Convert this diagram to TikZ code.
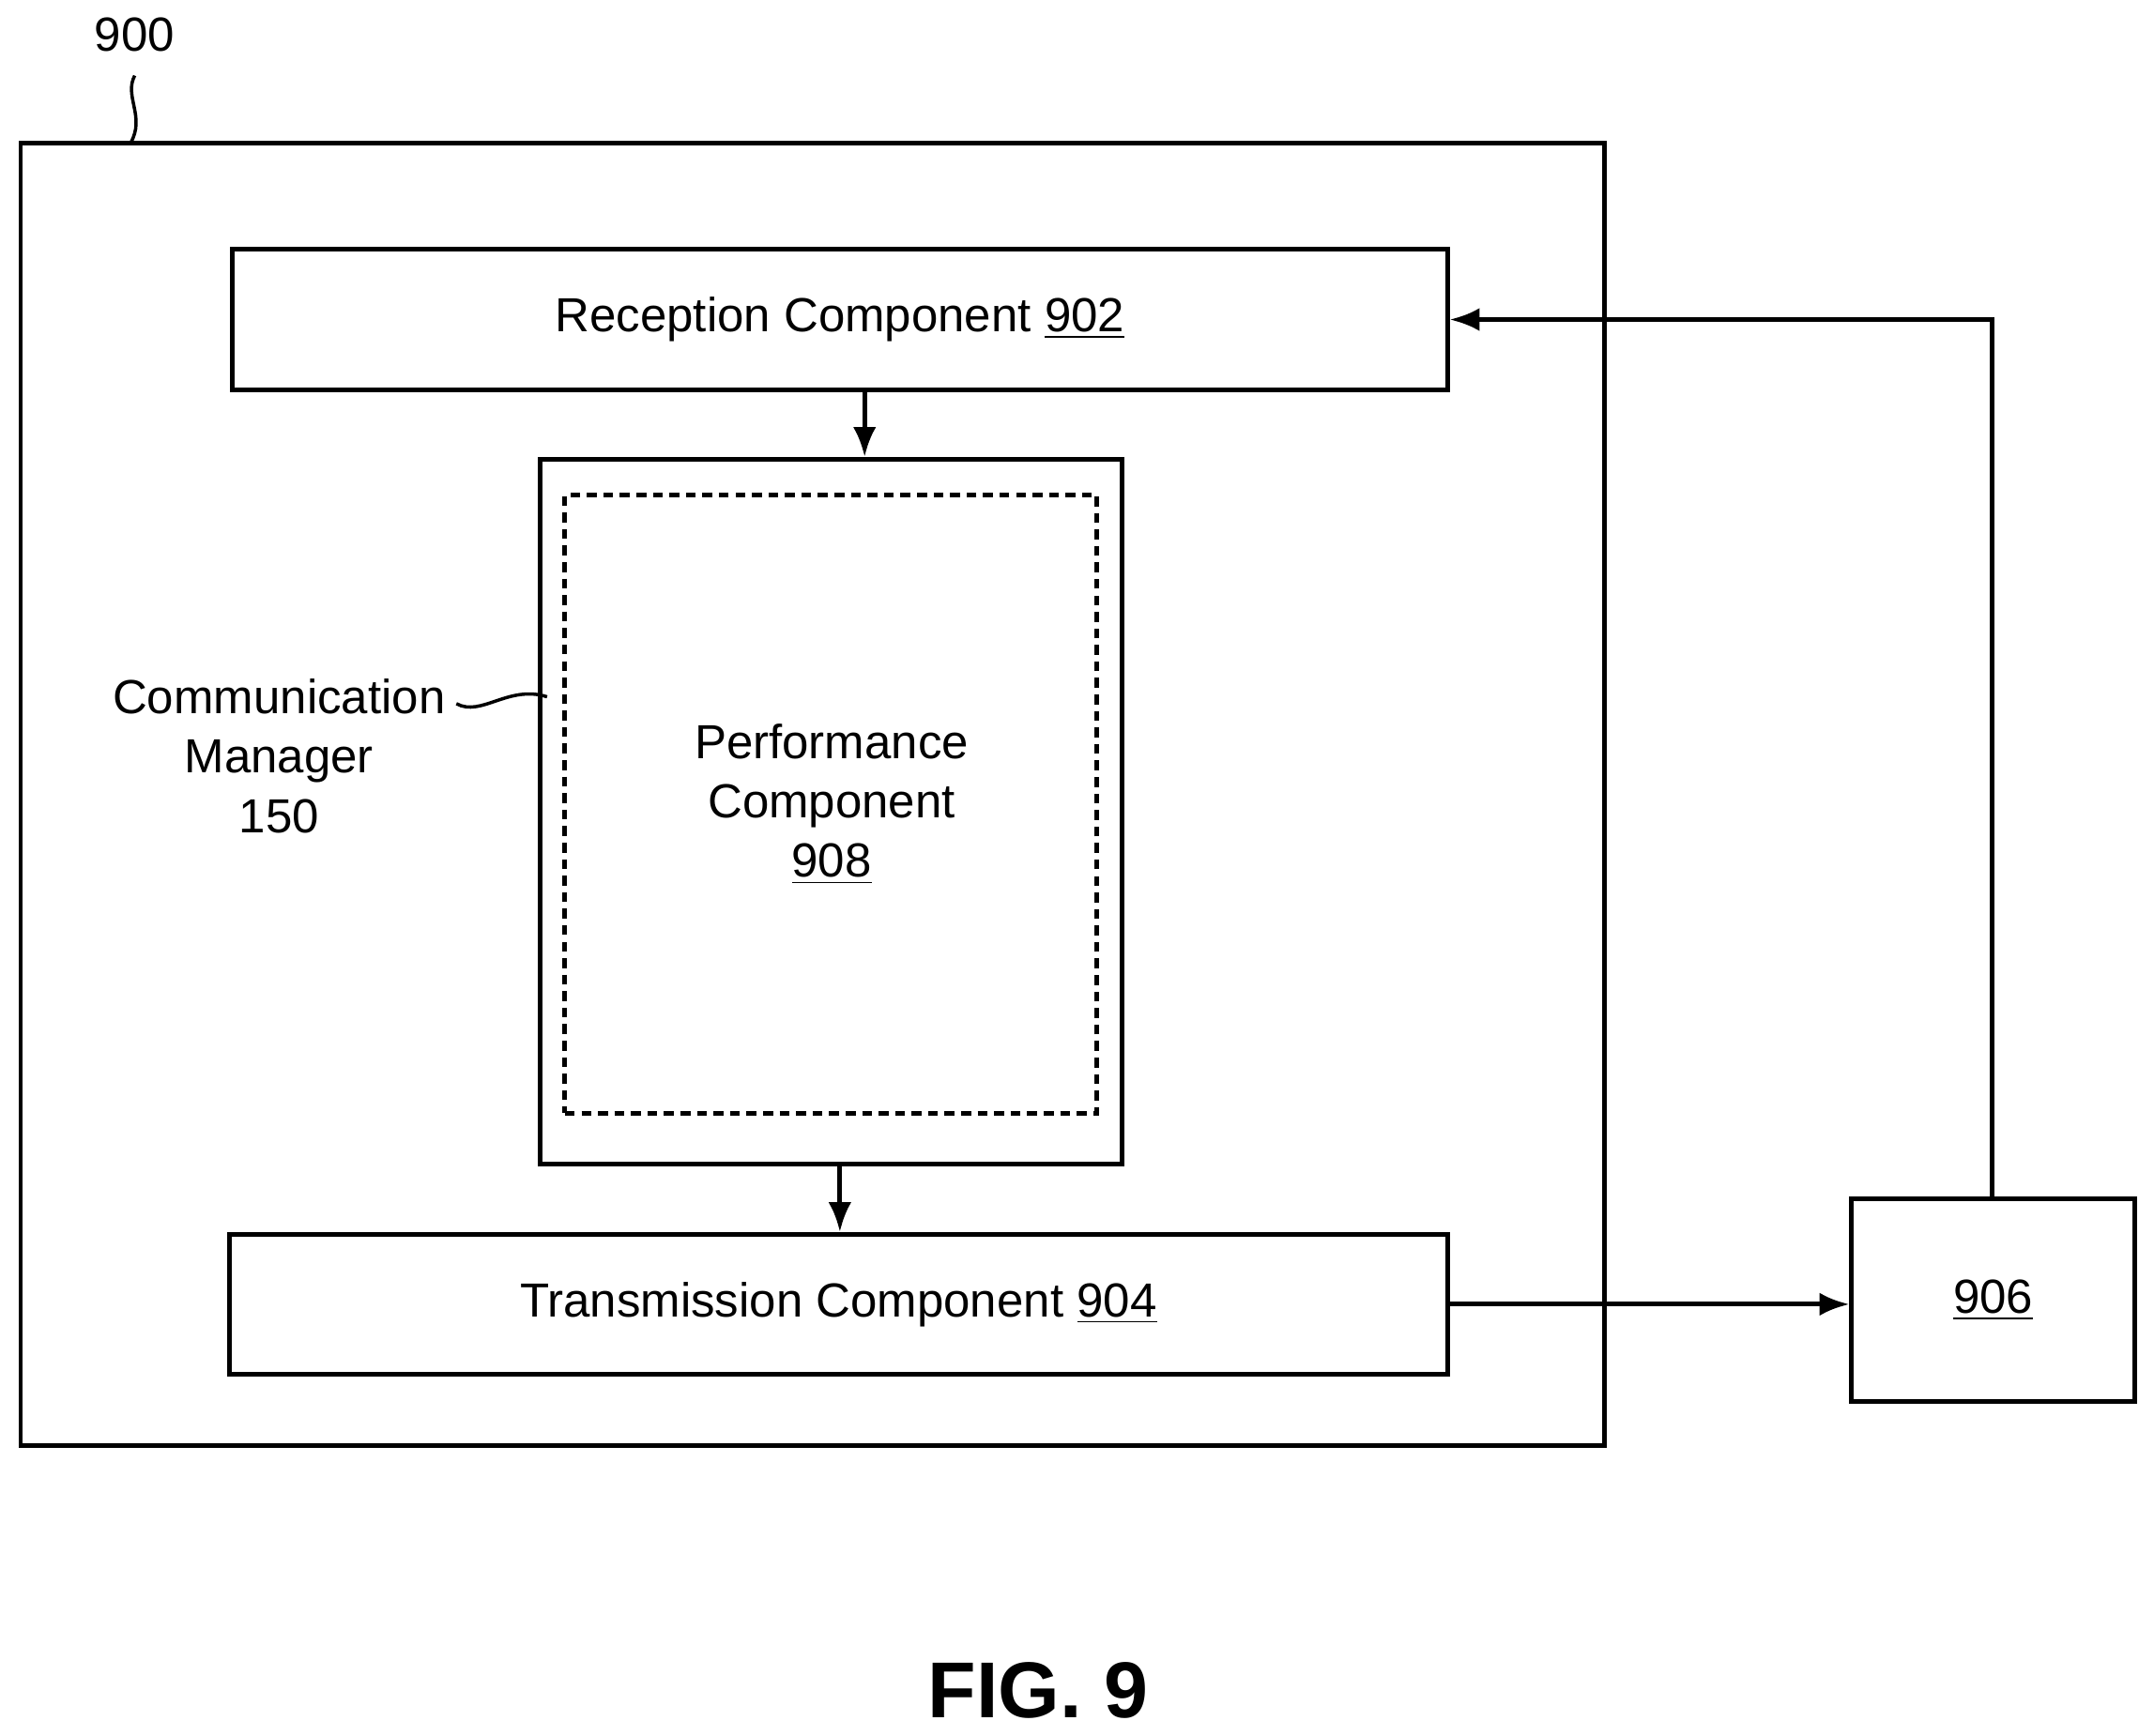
\documentclass[tikz,border=0pt]{standalone}
\usepackage{fontspec}
\setmainfont{Liberation Sans}
\usetikzlibrary{positioning,arrows.meta}
\begin{document}
\begin{tikzpicture}[x=0.01464cm,y=-0.01464cm,>={Latex[length=9pt,width=7pt]},line width=1.4pt,font=\fontsize{14.5}{17}\selectfont]
\tikzset{
  comp/.style={draw,rectangle,inner sep=0pt},
  lbl/.style={align=center,inner sep=0pt}
}
\useasboundingbox (0,0) rectangle (1567,1263);
% outer device
\node[comp,minimum width=1152*0.01464cm,minimum height=948*0.01464cm] (device) at (591,578) {};
\node[lbl] (devlbl) at (98,25) {900};
\draw[line width=1pt] (98,55) .. controls (90,70) and (106,85) .. (95,104);
% components
\node[comp,minimum width=884*0.01464cm,minimum height=103*0.01464cm] (rx) at (611,232.5) {Reception Component \underline{902}};
\node[comp,minimum width=423*0.01464cm,minimum height=513*0.01464cm] (cm) at (604.5,590.5) {};
\node[comp,dash pattern=on 3pt off 2pt,minimum width=387*0.01464cm,minimum height=450*0.01464cm] (perf) at (604.5,585) {};
\node[lbl] (perflbl) at (605,585) {Performance\\[1pt]Component\\[1pt]\underline{908}};
\node[comp,minimum width=886*0.01464cm,minimum height=102*0.01464cm] (tx) at (610,949) {Transmission Component \underline{904}};
\node[comp,minimum width=206*0.01464cm,minimum height=148*0.01464cm] (ext) at (1450,946) {\underline{906}};
% communication manager label
\node[lbl] (cmlbl) at (203,550) {Communication\\[1pt]Manager\\[1pt]150};
\draw[line width=1pt] (332,512) .. controls (350,522) and (370,498) .. (398,507);
% connectors
\draw[->] (rx.south -| 629,0) -- (cm.north -| 629,0);
\draw[->] (cm.south -| 611,0) -- (tx.north -| 611,0);
\draw[->] (tx.east) -- (ext.west |- tx.east);
\draw[->] (ext.north -| 1449,0) -- (1449,232.5) -- (rx.east);
\node[font=\bfseries\fontsize{24}{28}\selectfont] (fig) at (755,1230) {FIG. 9};
\end{tikzpicture}
\end{document}
